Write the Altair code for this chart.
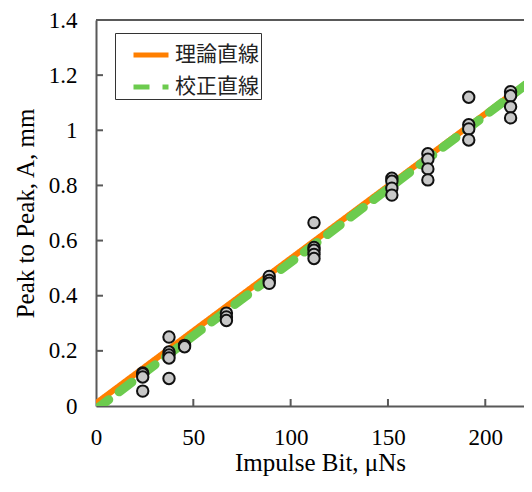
import altair as alt
import pandas as pd

# ---- data ----
impulse = [24, 24, 24, 24,
           37.5, 37.5, 37.5, 37.5, 37.5,
           45.5, 45.5,
           67, 67, 67,
           89, 89, 89,
           112, 112, 112, 112, 112,
           152, 152, 152, 152,
           170.5, 170.5, 170.5, 170.5,
           191.5, 191.5, 191.5, 191.5,
           213, 213, 213, 213]
peak = [0.12, 0.116, 0.105, 0.054,
        0.25, 0.196, 0.185, 0.174, 0.10,
        0.22, 0.215,
        0.337, 0.323, 0.31,
        0.47, 0.455, 0.445,
        0.665, 0.575, 0.565, 0.55, 0.535,
        0.826, 0.815, 0.79, 0.765,
        0.915, 0.895, 0.86, 0.82,
        1.12, 1.02, 1.005, 0.965,
        1.14, 1.125, 1.085, 1.045]

series_names = ["理論直線", "校正直線"]
line_x = [0, 224]
theory_y = [0.01, 1.186]
calib_y = [-0.012, 1.182]

x_ticks = [0, 50, 100, 150, 200]
y_ticks = [0, 0.2, 0.4, 0.6, 0.8, 1.0, 1.2, 1.4]
x_inner_ticks = [50, 100, 150, 200]
y_inner_ticks = [0.2, 0.4, 0.6, 0.8, 1.0, 1.2]

W, H = 436, 386
X_MAX, Y_MAX = 224, 1.4
AXIS_COLOR = "#595959"
SERIF = "Liberation Serif"

pts = pd.DataFrame({"x": impulse, "y": peak})
lines_theory = pd.DataFrame({"x": line_x, "y": theory_y, "series": series_names[0]})
lines_calib = pd.DataFrame({"x": line_x, "y": calib_y, "series": series_names[1]})

xscale = alt.Scale(domain=[0, X_MAX], nice=False, zero=False)
yscale = alt.Scale(domain=[0, Y_MAX], nice=False, zero=False)

xaxis = alt.Axis(values=x_ticks, ticks=False, grid=False, domainColor=AXIS_COLOR,
                 domainWidth=2, labelFont=SERIF, labelFontSize=23, labelColor="#000",
                 labelPadding=20, labelFlush=False,
                 title="Impulse Bit, μNs", titleFont=SERIF, titleFontSize=25,
                 titleFontWeight="normal", titleColor="#000",
                 titleX=224, titleY=64, titleBaseline="alphabetic", titleAlign="center")
yaxis = alt.Axis(values=y_ticks, ticks=False, grid=False, domainColor=AXIS_COLOR,
                 domainWidth=2, labelFont=SERIF, labelFontSize=23, labelColor="#000",
                 labelPadding=19, labelFlush=False,
                 labelExpr="datum.value == 1 ? '1' : datum.value == 0 ? '0' : format(datum.value, '.1f')",
                 title="Peak to Peak, A, mm", titleFont=SERIF, titleFontSize=25,
                 titleFontWeight="normal", titleColor="#000",
                 titleX=-63, titleY=H / 2, titleAngle=270, titleBaseline="alphabetic",
                 titleAlign="center")

color_scale = alt.Scale(domain=series_names, range=["#FF7F00", "#6CCB4E"])
dash_scale = alt.Scale(domain=series_names, range=[[1, 0], [16, 13]])
legend = alt.Legend(title=None, orient="none", legendX=19, legendY=13,
                    symbolType="stroke", symbolSize=1225, symbolStrokeWidth=5,
                    symbolOffset=14, labelOffset=4, rowPadding=2, padding=2,
                    labelFont="Noto Sans CJK JP", labelFontSize=21, labelColor="#222",
                    strokeColor="#333", fillColor="white")

base_x = alt.X("x:Q", scale=xscale, axis=xaxis)
base_y = alt.Y("y:Q", scale=yscale, axis=yaxis)

theory = alt.Chart(lines_theory).mark_line(strokeWidth=6, clip=True).encode(
    x=base_x, y=base_y,
    color=alt.Color("series:N", scale=color_scale, legend=legend),
    strokeDash=alt.StrokeDash("series:N", scale=dash_scale, legend=legend),
)
calib = alt.Chart(lines_calib).mark_line(strokeWidth=9, strokeCap="round", clip=True).encode(
    x="x:Q", y="y:Q",
    color=alt.Color("series:N", scale=color_scale, legend=legend),
    strokeDash=alt.StrokeDash("series:N", scale=dash_scale, legend=legend),
)
points = alt.Chart(pts).mark_circle(size=130, fill="#C8C8C8", stroke="#111",
                                     strokeWidth=2, opacity=1).encode(x="x:Q", y="y:Q")

xt = alt.Chart(pd.DataFrame({"x": x_inner_ticks})).mark_rule(
    color=AXIS_COLOR, strokeWidth=2).encode(x="x:Q", y=alt.value(H), y2=alt.value(H - 7))
yt = alt.Chart(pd.DataFrame({"y": y_inner_ticks})).mark_rule(
    color=AXIS_COLOR, strokeWidth=2).encode(y="y:Q", x=alt.value(0), x2=alt.value(7))
top = alt.Chart(pd.DataFrame({"y": [Y_MAX]})).mark_rule(
    color=AXIS_COLOR, strokeWidth=2).encode(y="y:Q", x=alt.value(0), x2=alt.value(W))

chart = alt.layer(theory, calib, points, xt, yt, top).properties(
    width=W, height=H,
    autosize=alt.AutoSizeParams(type="none"),
    padding={"left": 88, "top": 12, "right": -8, "bottom": 70},
).configure_view(stroke=None).configure(background="white")

chart.save("out.html", embed_options={"renderer": "svg", "actions": False})
